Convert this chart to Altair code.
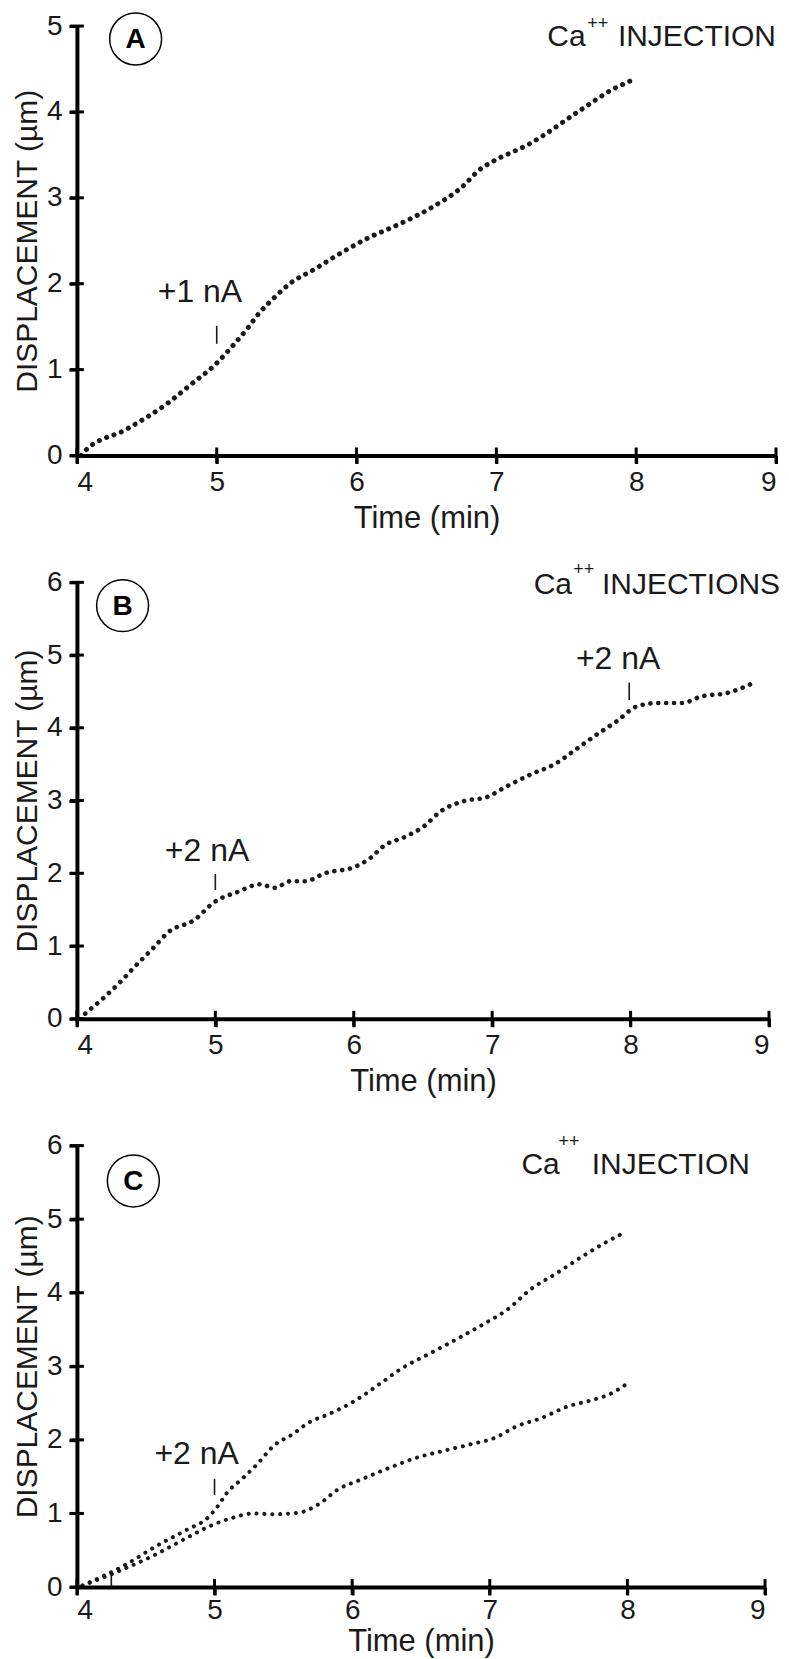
import altair as alt
import pandas as pd

FONT = "Liberation Sans, Arial, Helvetica, sans-serif"
INK = "#1a1a1a"

# ---------------- data ----------------
# Panel A
a_t = [4.03, 4.05, 4.36, 4.65, 4.81, 4.99, 5.10, 5.22, 5.31, 5.40, 5.53, 5.69, 5.84,
       6.08, 6.30, 6.53, 6.75, 6.89, 6.96, 7.25, 7.60, 7.84, 8.00]
a_v = [0.00, 0.04, 0.31, 0.61, 0.82, 1.06, 1.25, 1.48, 1.67, 1.82, 2.01, 2.16, 2.31,
       2.53, 2.69, 2.88, 3.12, 3.34, 3.41, 3.64, 4.02, 4.27, 4.39]

# Panel B
b_t = [4.06, 4.30, 4.41, 4.56, 4.66, 4.85, 4.99, 5.17, 5.32, 5.43, 5.54, 5.65, 5.79,
       6.01, 6.12, 6.22, 6.37, 6.51, 6.62, 6.81, 6.95, 7.10, 7.28, 7.46, 7.61, 7.75,
       7.90, 8.04, 8.19, 8.37, 8.51, 8.70, 8.88]
b_v = [0.07, 0.48, 0.70, 0.99, 1.19, 1.36, 1.60, 1.75, 1.85, 1.80, 1.89, 1.89, 2.00,
       2.09, 2.21, 2.38, 2.50, 2.65, 2.84, 3.00, 3.04, 3.19, 3.36, 3.51, 3.71, 3.90,
       4.09, 4.29, 4.34, 4.34, 4.43, 4.48, 4.61]

# Panel C, upper and lower traces
c1_t = [4.04, 4.36, 4.58, 4.80, 4.95, 5.02, 5.09, 5.20, 5.31, 5.43, 5.57, 5.68, 5.83,
        6.01, 6.20, 6.35, 6.57, 6.79, 6.97, 7.12, 7.30, 7.49, 7.67, 7.82, 7.98]
c1_v = [0.02, 0.31, 0.56, 0.78, 0.94, 1.09, 1.28, 1.47, 1.67, 1.92, 2.08, 2.23, 2.35,
        2.52, 2.76, 2.96, 3.18, 3.40, 3.59, 3.76, 4.05, 4.27, 4.49, 4.66, 4.82]
c2_t = [4.04, 4.36, 4.58, 4.80, 4.98, 5.13, 5.28, 5.43, 5.61, 5.76, 5.90, 6.05, 6.27,
        6.49, 6.64, 6.86, 7.04, 7.19, 7.38, 7.56, 7.74, 7.87, 7.98]
c2_v = [0.02, 0.26, 0.45, 0.67, 0.84, 0.94, 1.00, 0.99, 1.01, 1.13, 1.33, 1.45, 1.62,
        1.77, 1.84, 1.94, 2.03, 2.18, 2.30, 2.45, 2.54, 2.62, 2.74]

x_ticks = [4, 5, 6, 7, 8, 9]

# annotations: label text + position, injection marker (t, v1, v2)
a_labels = ["+1 nA"]; a_lab_t = [4.88]; a_lab_v = [1.907]
a_mk_t = [5.0]; a_mk_v1 = [1.30]; a_mk_v2 = [1.51]

b_labels = ["+2 nA", "+2 nA"]; b_lab_t = [4.94, 7.91]; b_lab_v = [2.31, 4.94]
b_mk_t = [5.0, 7.99]; b_mk_v1 = [1.77, 4.38]; b_mk_v2 = [1.99, 4.62]

c_labels = ["+2 nA"]; c_lab_t = [4.87]; c_lab_v = [1.81]
c_mk_t = [5.0, 4.25]; c_mk_v1 = [1.25, 0.0]; c_mk_v2 = [1.47, 0.2]

titles = ["INJECTION", "INJECTIONS", "INJECTION"]
letters = ["A", "B", "C"]


def panel(series, ymax, width, height, dot, labels, lab_t, lab_v, mk_t, mk_v1, mk_v2,
          title, letter, circ_t, circ_v, ca_t, pp_t, base_v, pp_v, inj_t,
          x_lpad, x_tpad):
    rows = []
    for name, ts, vs in series:
        for t, v in zip(ts, vs):
            rows.append({"series": name, "t": t, "v": v})
    df = pd.DataFrame(rows)
    y_ticks = list(range(0, ymax + 1))

    xs = alt.Scale(domain=[4, 9], nice=False, zero=False)
    ys = alt.Scale(domain=[0, ymax], nice=False)
    xax = alt.Axis(values=x_ticks, format="d", title="Time (min)", grid=False,
                   labelPadding=x_lpad, titlePadding=x_tpad)
    yax = alt.Axis(values=y_ticks, format="d", title="DISPLACEMENT (µm)", grid=False,
                   titlePadding=3.5, labelPadding=7)

    line = alt.Chart(df).mark_line(
        strokeDash=[0.1, 7.8], strokeCap="round", strokeWidth=dot,
        color=INK, interpolate="monotone"
    ).encode(
        x=alt.X("t:Q", scale=xs, axis=xax),
        y=alt.Y("v:Q", scale=ys, axis=yax),
        detail="series:N",
    )

    # ticks that cross the axis lines
    xt = alt.Chart(pd.DataFrame({"t": x_ticks, "v": [0] * len(x_ticks)})).mark_tick(
        orient="vertical", size=16, thickness=3, color="black", opacity=1
    ).encode(x=alt.X("t:Q", scale=xs), y=alt.Y("v:Q", scale=ys))
    yt = alt.Chart(pd.DataFrame({"t": [4] * len(y_ticks), "v": y_ticks})).mark_tick(
        orient="horizontal", size=14, thickness=3, color="black", opacity=1
    ).encode(x=alt.X("t:Q", scale=xs), y=alt.Y("v:Q", scale=ys))

    mk = alt.Chart(pd.DataFrame({"t": mk_t, "v1": mk_v1, "v2": mk_v2})).mark_rule(
        color=INK, strokeWidth=1.6
    ).encode(x=alt.X("t:Q", scale=xs), y=alt.Y("v1:Q", scale=ys), y2="v2:Q")

    lab = alt.Chart(pd.DataFrame({"t": lab_t, "v": lab_v, "s": labels})).mark_text(
        font=FONT, fontSize=32, color=INK, align="center", baseline="middle"
    ).encode(x=alt.X("t:Q", scale=xs), y=alt.Y("v:Q", scale=ys), text="s:N")

    circ_df = pd.DataFrame({"t": [circ_t], "v": [circ_v], "s": [letter]})
    circ = alt.Chart(circ_df).mark_point(
        shape="circle", size=2704, fill="white", stroke="black",
        strokeWidth=1.5, opacity=1, filled=False
    ).encode(x=alt.X("t:Q", scale=xs), y=alt.Y("v:Q", scale=ys))
    let = alt.Chart(circ_df).mark_text(
        font=FONT, fontWeight="bold", fontSize=28,
        color="black", align="center", baseline="middle", dy=1
    ).encode(x=alt.X("t:Q", scale=xs), y=alt.Y("v:Q", scale=ys), text="s:N")

    ca = alt.Chart(pd.DataFrame({"t": [ca_t], "v": [base_v], "s": ["Ca"]})).mark_text(
        font=FONT, fontSize=30, color=INK, align="left", baseline="alphabetic"
    ).encode(x=alt.X("t:Q", scale=xs), y=alt.Y("v:Q", scale=ys), text="s:N")
    pp = alt.Chart(pd.DataFrame({"t": [pp_t], "v": [pp_v], "s": ["++"]})).mark_text(
        font=FONT, fontSize=18, color=INK, align="left", baseline="alphabetic"
    ).encode(x=alt.X("t:Q", scale=xs), y=alt.Y("v:Q", scale=ys), text="s:N")
    inj = alt.Chart(pd.DataFrame({"t": [inj_t], "v": [base_v], "s": [title]})).mark_text(
        font=FONT, fontSize=30, color=INK, align="right", baseline="alphabetic"
    ).encode(x=alt.X("t:Q", scale=xs), y=alt.Y("v:Q", scale=ys), text="s:N")

    return alt.layer(line, xt, yt, mk, lab, circ, let, ca, pp, inj).properties(
        width=width, height=height
    )


pA = panel([("a", a_t, a_v)], 5, 700, 430, 5.0,
           a_labels, a_lab_t, a_lab_v, a_mk_t, a_mk_v1, a_mk_v2,
           titles[0], letters[0], 4.42, 4.849,
           7.364, 7.65, 4.771, 4.965, 9.0, 5, 7)
pB = panel([("b", b_t, b_v)], 6, 693, 437, 4.6,
           b_labels, b_lab_t, b_lab_v, b_mk_t, b_mk_v1, b_mk_v2,
           titles[1], letters[1], 4.33, 5.68,
           7.30, 7.585, 5.84, 6.1, 9.08, 5, 7)
pC = panel([("c1", c1_t, c1_v), ("c2", c2_t, c2_v)], 6, 689, 442, 4.0,
           c_labels, c_lab_t, c_lab_v, c_mk_t, c_mk_v1, c_mk_v2,
           titles[2], letters[2], 4.41, 5.52,
           7.23, 7.50, 5.62, 5.98, 8.89, 2, 2)

chart = alt.vconcat(pA, pB, pC, spacing=127, bounds="flush").properties(
    padding={"left": 4, "top": 0, "right": 0, "bottom": 0}
).configure_view(stroke=None).configure_axis(
    domainColor="black", domainWidth=4, tickColor="black", tickWidth=3, tickSize=8,
    labelFont=FONT, labelFontSize=28, labelColor=INK,
    titleFont=FONT, titleFontWeight="normal", titleColor=INK,
).configure_axisX(titleFontSize=31).configure_axisY(titleFontSize=30)

chart.save("out.html", embed_options={"renderer": "svg", "actions": False})
